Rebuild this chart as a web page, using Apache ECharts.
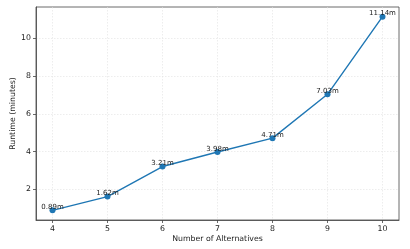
<!DOCTYPE html>
<html><head><meta charset="utf-8">
<script src="https://cdn.jsdelivr.net/npm/echarts@6/dist/echarts.min.js"></script>
<style>html,body{margin:0;padding:0;background:#fff}#c{width:410px;height:249px}</style>
</head><body><div id="c"></div>
<script>
const alternatives = [4, 5, 6, 7, 8, 9, 10];
const runtimes = [0.89, 1.62, 3.21, 3.98, 4.71, 7.03, 11.14];
const xTicks = [4, 5, 6, 7, 8, 9, 10];
const yTicks = [2, 4, 6, 8, 10];

const chart = echarts.init(document.getElementById('c'), null, {renderer: 'canvas'});
const font = 'DejaVu Sans';
const axisCol = '#444';
chart.setOption({
  animation: false,
  textStyle: {fontFamily: font},
  grid: {left: 36, right: 11, top: 7, bottom: 29, show: true, borderColor: axisCol, borderWidth: 0.8, containLabel: false, outerBoundsMode: 'none'},
  xAxis: {
    type: 'value', min: 3.7, max: 10.3,
    name: 'Number of Alternatives', nameLocation: 'middle', nameGap: 15, nameMoveOverlap: false,
    nameTextStyle: {fontSize: 7.8, color: '#222', fontFamily: font},
    axisLine: {show: true, lineStyle: {color: axisCol, width: 0.8}},
    axisTick: {show: true, customValues: xTicks, length: 3, lineStyle: {color: axisCol, width: 0.8}},
    axisLabel: {customValues: xTicks, fontSize: 7.8, color: '#222', margin: 5, fontFamily: font},
    splitLine: {show: true, lineStyle: {color: '#e0e0e0', type: [1.5, 1.5], width: 0.6}}
  },
  yAxis: {
    type: 'value', min: 0.38, max: 11.65,
    name: 'Runtime (minutes)', nameLocation: 'middle', nameGap: 19, nameRotate: 90, nameMoveOverlap: false,
    nameTextStyle: {fontSize: 7.8, color: '#222', fontFamily: font},
    axisLine: {show: true, lineStyle: {color: axisCol, width: 0.8}},
    axisTick: {show: true, customValues: yTicks, length: 3, lineStyle: {color: axisCol, width: 0.8}},
    axisLabel: {customValues: yTicks, fontSize: 7.8, color: '#222', margin: 5, fontFamily: font},
    splitLine: {show: true, lineStyle: {color: '#e0e0e0', type: [1.5, 1.5], width: 0.6}}
  },
  series: [{
    type: 'line',
    data: alternatives.map((a, i) => [a, runtimes[i]]),
    symbol: 'circle', symbolSize: 6,
    lineStyle: {color: '#1f77b4', width: 1.4},
    itemStyle: {color: '#1f77b4'},
    label: {
      show: true, position: 'top', distance: -3.5,
      fontSize: 7, color: '#222', fontFamily: font,
      formatter: p => p.value[1].toFixed(2) + 'm'
    }
  }]
});
</script></body></html>
